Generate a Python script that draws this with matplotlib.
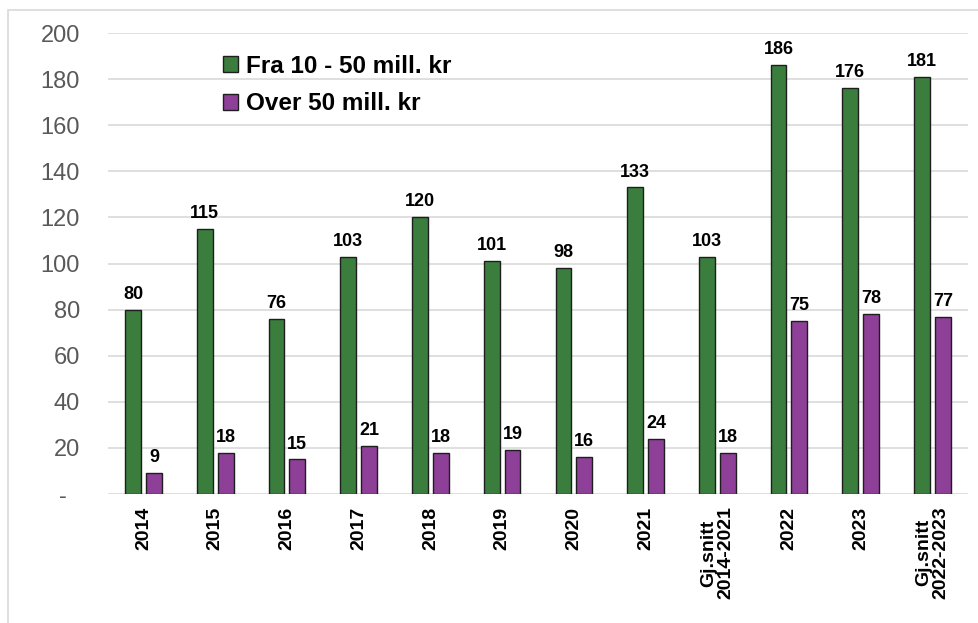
import numpy as np
import matplotlib
matplotlib.use("Agg")
import matplotlib.pyplot as plt
from matplotlib.patches import Rectangle

plt.rcParams['font.family'] = ['Liberation Sans', 'DejaVu Sans']

categories = ['2014', '2015', '2016', '2017', '2018', '2019', '2020', '2021',
              'Gj.snitt\n2014-2021', '2022', '2023', 'Gj.snitt\n2022-2023']
fra_10_50 = [80, 115, 76, 103, 120, 101, 98, 133, 103, 186, 176, 181]
over_50 = [9, 18, 15, 21, 18, 19, 16, 24, 18, 75, 78, 77]
series_names = ['Fra 10 - 50 mill. kr', 'Over 50 mill. kr']

green = '#3a7d3c'
purple = '#8e3f98'

fig = plt.figure(figsize=(9.79, 6.23), dpi=100)
ax = fig.add_axes([0.110, 0.207, 0.879, 0.740])

# outer chart frame (runs off the right and bottom edges like the original)
fig.patches.append(Rectangle((8 / 979, -10 / 623), 990 / 979, 623 / 623,
                             transform=fig.transFigure, fill=False,
                             edgecolor='#d9d9d9', linewidth=1.2))

x = np.arange(len(categories))
w = 0.22
off = 0.145
b1 = ax.bar(x - off, fra_10_50, w, color=green, edgecolor='#1e1e1e',
            linewidth=1.0, label=series_names[0], zorder=3)
b2 = ax.bar(x + off, over_50, w, color=purple, edgecolor='#1e1e1e',
            linewidth=1.0, label=series_names[1], zorder=3)

for bars, vals in ((b1, fra_10_50), (b2, over_50)):
    for rect, v in zip(bars, vals):
        ax.annotate(str(v), (rect.get_x() + rect.get_width() / 2, v),
                    xytext=(0, 5), textcoords='offset points',
                    ha='center', va='bottom', fontsize=13, fontweight='bold')

ax.set_xlim(-0.5, len(categories) - 0.5)
ax.set_ylim(0, 200)
ax.set_yticks(np.arange(0, 201, 20))
ax.set_yticklabels(['-  '] + [str(v) for v in range(20, 201, 20)],
                   fontsize=17, color='#595959')
ax.set_xticks(x)
ax.set_xticklabels(categories, rotation=90, fontsize=14, fontweight='bold',
                   linespacing=0.95)
ax.tick_params(axis='both', length=0)
ax.tick_params(axis='y', pad=20)
ax.tick_params(axis='x', pad=9)

ax.grid(axis='y', color='#d9d9d9', linewidth=1.2, zorder=0)
for s in ax.spines.values():
    s.set_visible(False)

leg = ax.legend(loc='upper left', bbox_to_anchor=(0.108, 1.0), frameon=False,
                prop={'size': 17.5, 'weight': 'bold'}, handlelength=0.65,
                handleheight=0.65, handletextpad=0.3, labelspacing=0.6)

fig.savefig('out.png', dpi=100)
